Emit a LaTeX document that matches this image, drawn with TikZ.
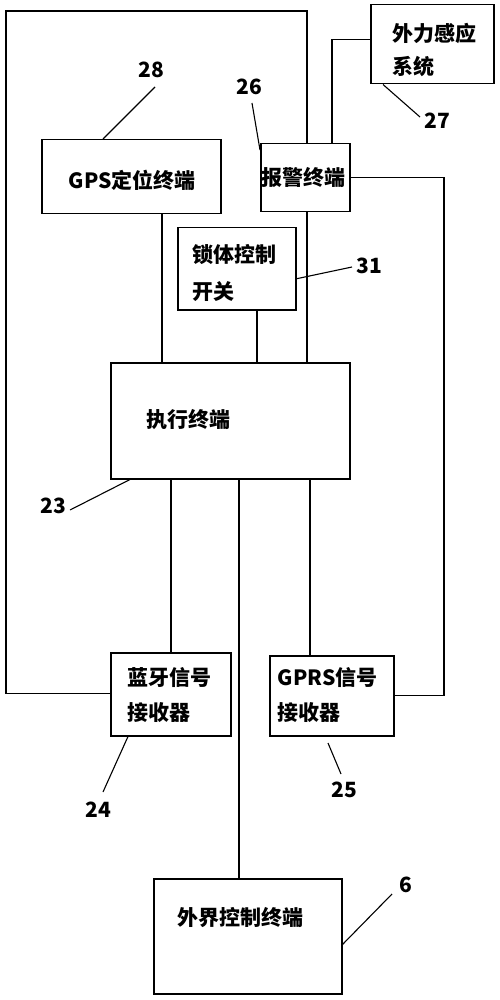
\documentclass[tikz,border=0pt]{standalone}
\usepackage{fontspec}
\newfontfamily\cjk{Noto Sans CJK SC}
\begin{document}
\begin{tikzpicture}[x=1pt,y=-1pt,line width=1.3pt,
  box/.style={draw,line width=1.5pt,anchor=north west,inner sep=0pt},
  txt/.style={anchor=west,inner sep=0pt,align=left,font=\cjk\bfseries\fontsize{21}{35}\selectfont},
  num/.style={inner sep=0pt,font=\cjk\bfseries\fontsize{21}{25}\selectfont},
  leader/.style={line width=1.1pt}]
\useasboundingbox (0,0) rectangle (499,1000);
% boxes
\node[box,minimum width=179pt,minimum height=74pt] (gps) at (41,139) {};
\node[box,minimum width=89pt,minimum height=68pt] (alarm) at (260,143) {};
\node[box,minimum width=123pt,minimum height=79pt] (ext) at (370,4) {};
\node[box,minimum width=118pt,minimum height=82pt] (lock) at (177,227) {};
\node[box,minimum width=239pt,minimum height=116pt] (exec) at (110,362) {};
\node[box,minimum width=120pt,minimum height=83pt] (bt) at (110,652) {};
\node[box,minimum width=124pt,minimum height=80pt] (gprs) at (269,655) {};
\node[box,minimum width=188pt,minimum height=115pt] (outc) at (153,878) {};
% texts
\node[txt] (tgps) at (68,180) {GPS定位终端};
\node[txt] (talarm) at (261,178) {报警终端};
\node[txt,font=\cjk\bfseries\fontsize{21}{33}\selectfont] (text) at (392,49.5) {外力感应\\系统};
\node[txt,font=\cjk\bfseries\fontsize{21}{37}\selectfont] (tlock) at (192,273.5) {锁体控制\\开关};
\node[txt] (texec) at (146,420) {执行终端};
\node[txt] (tbt) at (127,695.5) {蓝牙信号\\接收器};
\node[txt] (tgprs) at (277,695) {GPRS信号\\接收器};
\node[txt] (toutc) at (177,918) {外界控制终端};
% connectors
\draw ([xshift=121pt]gps.south west) coordinate (a1) -- (a1 |- exec.north);
\draw ([xshift=80pt]lock.south west) coordinate (a2) -- (a2 |- exec.north);
\draw ([xshift=47pt]alarm.south west) coordinate (a3) -- (a3 |- exec.north);
\draw ([xshift=61pt]exec.south west) coordinate (b1) -- (b1 |- bt.north);
\draw ([xshift=129pt]exec.south west) coordinate (b2) -- (b2 |- outc.north);
\draw ([xshift=200pt]exec.south west) coordinate (b3) -- (b3 |- gprs.north);
\coordinate (cl) at (6,11);
\draw ([yshift=43pt]bt.south west) -| (cl) -| ([xshift=47pt]alarm.north west);
\draw ([xshift=72pt]alarm.north west) |- ([yshift=45pt]ext.south west);
\coordinate (cr) at (444,0);
\draw (alarm.east) -| (cr |- gprs.east) -- (gprs.east);
% numbers
\node[num] (n28) at (151,70) {28};
\node[num] (n26) at (249,87) {26};
\node[num] (n27) at (437,121) {27};
\node[num] (n31) at (369,266) {31};
\node[num] (n23) at (53,506) {23};
\node[num] (n24) at (98,810) {24};
\node[num] (n25) at (344,790) {25};
\node[num] (n6) at (406,885) {6};
\coordinate (l28) at (155,87);
\coordinate (l26) at (252,103);
\coordinate (l27) at (420,117);
\coordinate (l31) at (352,267);
\coordinate (l23) at (70,510);
\coordinate (l24) at (103,792);
\coordinate (l25a) at (328,743);
\coordinate (l25b) at (341,774);
\coordinate (l6) at (392,894);
\draw[leader] (l28) -- ([xshift=62pt]gps.north west);
\draw[leader] (l26) -- ([yshift=-7pt]alarm.north west);
\draw[leader] ([xshift=13pt]ext.south west) -- (l27);
\draw[leader] ([yshift=-10pt]lock.east) -- (l31);
\draw[leader] ([xshift=20pt]exec.south west) -- (l23);
\draw[leader] ([xshift=18pt]bt.south west) -- (l24);
\draw[leader] (l25a) -- (l25b);
\draw[leader] ([yshift=50pt]outc.south east) -- (l6);
\end{tikzpicture}
\end{document}
